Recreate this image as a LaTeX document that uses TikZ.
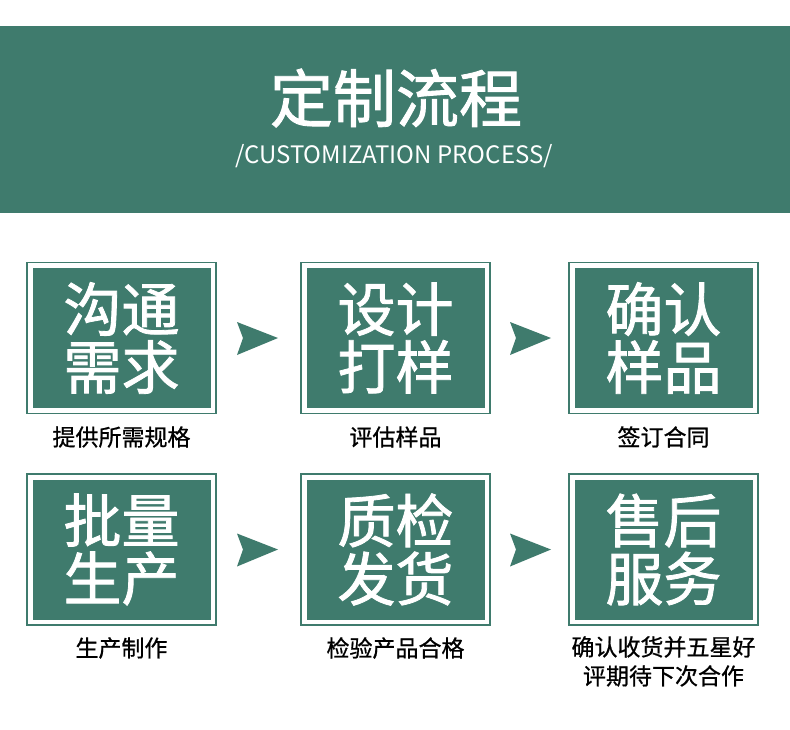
\documentclass[tikz,border=0pt]{standalone}
\usepackage{fontspec}
\setmainfont{Noto Sans CJK SC}
\newfontfamily\cjk{Noto Sans CJK SC}
\newfontfamily\cjkbig[FakeBold=1.4]{Noto Sans CJK SC}
\newfontfamily\cjkmid[FakeBold=0.8]{Noto Sans CJK SC}
\definecolor{dgreen}{HTML}{3F7B6D}
\tikzset{
  frame/.style={draw=dgreen, line width=1.5pt, fill=white, minimum width=189pt, minimum height=151pt, inner sep=0pt},
  panel/.style={fill=dgreen, minimum width=178pt, minimum height=140pt, inner sep=0pt},
  bigtxt/.style={text=white, font=\cjkbig\fontsize{58}{60}\selectfont, align=center, inner sep=0pt},
  captxt/.style={font=\cjkmid\fontsize{23}{29}\selectfont, align=center, inner sep=0pt, text=black}
}
\newcommand{\arrowshape}[2]{\fill[dgreen] (#1+20,#2) -- (#1-21,#2-16) -- (#1-15,#2) -- (#1-21,#2+17) -- cycle;}
\begin{document}
\begin{tikzpicture}[x=1pt,y=-1pt]
\useasboundingbox (0,0) rectangle (790,729);
\fill[white] (0,0) rectangle (790,729);
% header band
\fill[dgreen] (0,26) rectangle (790,213);
\node[text=white, font=\cjkbig\fontsize{63}{63}\selectfont, inner sep=0pt] (title) at (396,98) {定制流程};
\node[text=white, font=\cjk\fontsize{24}{24}\selectfont, inner sep=0pt] (sub) at (394,156) {/CUSTOMIZATION PROCESS/};
% row 1
\node[frame] (f1) at (121.5,338) {};
\node[panel] (p1) at (121.5,338) {};
\node[bigtxt] (t1) at (121.5,338) {沟通\\[-2pt]需求};
\node[captxt] (c1) at (121.5,437) {提供所需规格};
\node[frame] (f2) at (395.5,338) {};
\node[panel] (p2) at (395.5,338) {};
\node[bigtxt] (t2) at (395.5,338) {设计\\[-2pt]打样};
\node[captxt] (c2) at (395.5,437) {评估样品};
\node[frame] (f3) at (663.5,338) {};
\node[panel] (p3) at (663.5,338) {};
\node[bigtxt] (t3) at (663.5,338) {确认\\[-2pt]样品};
\node[captxt] (c3) at (663.5,437) {签订合同};
% row 2
\node[frame] (f4) at (121.5,549.5) {};
\node[panel] (p4) at (121.5,549.5) {};
\node[bigtxt] (t4) at (121.5,549.5) {批量\\[-2pt]生产};
\node[captxt] (c4) at (121.5,648) {生产制作};
\node[frame] (f5) at (395.5,549.5) {};
\node[panel] (p5) at (395.5,549.5) {};
\node[bigtxt] (t5) at (395.5,549.5) {质检\\[-2pt]发货};
\node[captxt] (c5) at (395.5,648) {检验产品合格};
\node[frame] (f6) at (663.5,549.5) {};
\node[panel] (p6) at (663.5,549.5) {};
\node[bigtxt] (t6) at (663.5,549.5) {售后\\[-2pt]服务};
\node[captxt, anchor=north] (c6) at (663.5,636) {确认收货并五星好\\评期待下次合作};
% arrows
\arrowshape{258}{338}
\arrowshape{531}{338}
\arrowshape{258}{549.5}
\arrowshape{531}{549.5}
\end{tikzpicture}
\end{document}
